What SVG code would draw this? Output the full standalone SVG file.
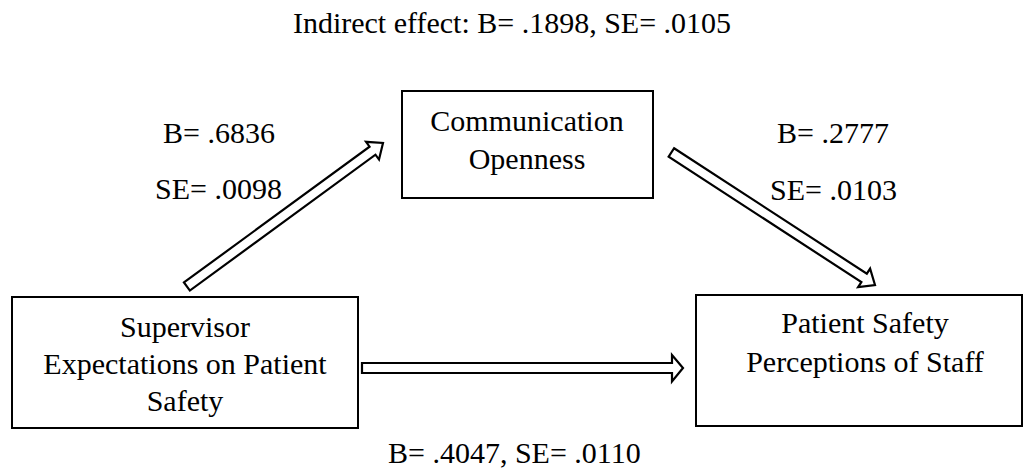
<svg xmlns="http://www.w3.org/2000/svg" width="1023" height="472" viewBox="0 0 1023 472">
<style>
text{font-family:"Liberation Serif","Times New Roman",serif;font-size:30px;fill:#000}
.c{text-anchor:middle}
.box{fill:#fff;stroke:#000;stroke-width:2}
.arr{fill:#fff;stroke:#000;stroke-width:2.2;stroke-linejoin:miter}
</style>
<rect width="1023" height="472" fill="#fff"/>
<text class="c" x="512" y="33">Indirect effect: B= .1898, SE= .0105</text>
<g id="connectors">
<g transform="translate(383,143) rotate(-36.2)"><polygon class="arr" points="-243,-5 -13,-5 -13,-11 0,0 -13,11 -13,5 -243,5"/></g>
<g transform="translate(875,285) rotate(33.07)"><polygon class="arr" points="-243,-5 -13,-5 -13,-11 0,0 -13,11 -13,5 -243,5"/></g>
<polygon class="arr" points="362,363 672,363 672,355 683,368 672,381.5 672,373 362,373"/>
</g>
<g id="node-communication">
<rect class="box" x="402" y="91" width="251" height="107"/>
<text class="c" x="527" y="131">Communication</text>
<text class="c" x="527" y="169">Openness</text>
</g>
<g id="node-supervisor">
<rect class="box" x="12" y="297" width="346" height="131"/>
<text class="c" x="185" y="337">Supervisor</text>
<text class="c" x="185" y="374">Expectations on Patient</text>
<text class="c" x="185" y="411">Safety</text>
</g>
<g id="node-patient">
<rect class="box" x="696" y="295" width="326" height="131"/>
<text class="c" x="865" y="333">Patient Safety</text>
<text class="c" x="865" y="372">Perceptions of Staff</text>
</g>
<g id="labels">
<text x="163" y="143">B= .6836</text>
<text x="155" y="199">SE= .0098</text>
<text x="777" y="143">B= .2777</text>
<text x="770" y="200">SE= .0103</text>
<text x="388" y="463">B= .4047, SE= .0110</text>
</g>
</svg>
